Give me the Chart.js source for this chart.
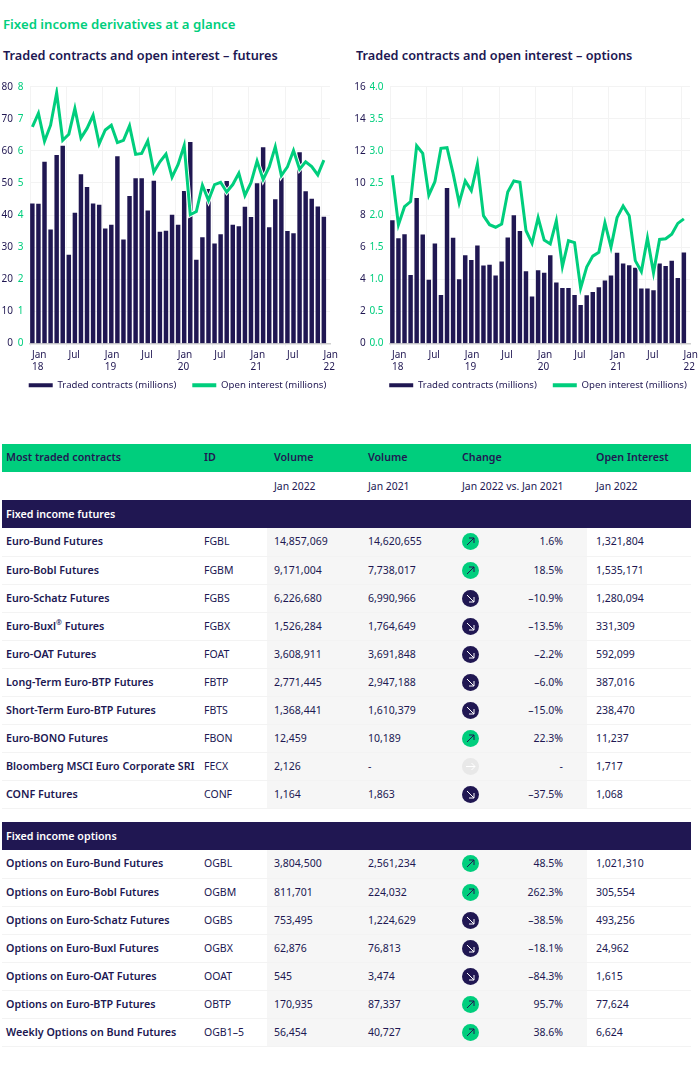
<!DOCTYPE html>
<html>
<head>
<meta charset="utf-8">
<title>Fixed income derivatives at a glance</title>
<script src="https://cdn.jsdelivr.net/npm/chart.js@4"></script>
<style>
html, body { margin: 0; padding: 0; background: #fff; }
body { width: 700px; height: 1067px; position: relative; overflow: hidden; font-family: "Noto Sans", sans-serif; color: #201752; }
.head { position: absolute; white-space: nowrap; font-weight: 600; }
#mainTitle { left: 3px; top: 16px; font-size: 13.2px; line-height: 16px; color: #00ce7d; }
#title1 { left: 3px; top: 47px; font-size: 12.7px; line-height: 16px; }
#title2 { left: 356px; top: 47px; font-size: 12.7px; line-height: 16px; }
canvas { position: absolute; }
#chart1 { left: 0; top: 70px; }
#chart2 { left: 352px; top: 70px; }
table { position: absolute; left: 2px; top: 444px; border-collapse: collapse; table-layout: fixed; width: 689px; font-size: 10.5px; }
td { height: 28px; padding: 0 0 1px 0; white-space: nowrap; box-sizing: border-box; border-bottom: 1px solid #f3f3f3; }
td.n { padding-left: 4px; font-weight: 600; font-size: 10.7px; }
td.i { padding-left: 4px; }
td.v { padding-left: 7px; background: #f6f6f6; }
td.c { padding-left: 7px; padding-right: 24px; background: #f6f6f6; position: relative; text-align: right; }
td.c svg { position: absolute; left: 7px; top: 5px; }
td.o { padding-left: 9px; }
sup { font-size: 7px; line-height: 0; }
tr.top td { background: #00ce7d; font-weight: 600; font-size: 10.7px; border: 0; padding-bottom: 2px; }
tr.sub td { background: #fff; border: 0; font-weight: 400; font-size: 10.4px; }
tr.band td { background: #201752; color: #fff; font-weight: 600; border: 0; }
tr.gap td { height: 14px; background: #fff; border: 0; }
</style>
</head>
<body>
<div class="head" id="mainTitle">Fixed income derivatives at a glance</div>
<div class="head" id="title1">Traded contracts and open interest – futures</div>
<div class="head" id="title2">Traded contracts and open interest – options</div>
<canvas id="chart1" width="355" height="330"></canvas>
<canvas id="chart2" width="372" height="330"></canvas>
<table id="tbl">
<colgroup><col style="width:198px"><col style="width:67px"><col style="width:94px"><col style="width:94px"><col style="width:132px"><col style="width:104px"></colgroup>
<tbody id="tbody"></tbody>
</table>

<script>
var months = [
	'Jan 18','Feb 18','Mar 18','Apr 18','May 18','Jun 18','Jul 18','Aug 18','Sep 18','Oct 18','Nov 18','Dec 18',
	'Jan 19','Feb 19','Mar 19','Apr 19','May 19','Jun 19','Jul 19','Aug 19','Sep 19','Oct 19','Nov 19','Dec 19',
	'Jan 20','Feb 20','Mar 20','Apr 20','May 20','Jun 20','Jul 20','Aug 20','Sep 20','Oct 20','Nov 20','Dec 20',
	'Jan 21','Feb 21','Mar 21','Apr 21','May 21','Jun 21','Jul 21','Aug 21','Sep 21','Oct 21','Nov 21','Dec 21',
	'Jan 22'];
var xTickLabels = [['Jan','18'],'Jul',['Jan','19'],'Jul',['Jan','20'],'Jul',['Jan','21'],'Jul',['Jan','22']];

var futuresTraded = [43.5,43.4,56.5,35.4,58.6,61.5,27.5,40.6,52.6,48.6,43.5,43.1,
	35.7,36.9,58.2,32.3,45.8,51.4,51.4,41.3,50.6,34.7,35,40,
	36.9,47.4,62.7,26,33,48,31,33.9,50.5,36.9,36.4,42.5,
	39.3,49.8,61,36.1,44.8,51.6,34.9,34.2,59.5,47.3,45,42.6,39.4];
var futuresOpen = [6.75,7.17,6.3,6.8,7.81,6.33,6.52,7.32,6.4,6.7,7.11,6.22,
	6.65,6.8,6.26,6.33,6.78,5.89,5.92,6.31,5.34,5.66,5.9,5.18,
	5.58,6.17,4.01,4.11,4.93,4.46,4.95,5.02,4.72,4.95,5.3,4.61,
	5.01,5.68,5.11,5.5,6.13,5.23,5.5,6.01,5.43,5.66,5.51,5.25,5.71];
var optionsTraded = [7.65,6.54,6.79,4.25,9.04,6.77,3.94,6.21,3,9.67,6.56,3.98,
	5.48,5.17,6.08,4.83,4.88,4.21,5.08,6.58,7.96,6.98,4.48,2.9,
	4.54,4.38,5.48,3.77,3.44,3.44,3,2.38,2.98,3.19,3.48,3.9,
	4.21,5.63,4.96,4.85,4.69,3.4,3.4,3.29,4.96,4.81,5.13,4.06,5.65];
var optionsOpen = [2.62,1.85,2.13,2.21,3.08,2.96,2.31,2.52,3.04,3.05,2.65,2.19,
	2.53,2.38,2.79,1.99,1.85,1.81,1.86,2.36,2.53,2.51,1.76,1.56,
	1.96,1.61,1.55,1.91,1.2,1.6,1.57,0.86,1.19,1.36,1.42,1.88,
	1.5,1.96,2.14,1.99,1.29,1.12,1.64,1.1,1.62,1.63,1.7,1.87,1.94];

var headerCols = ['Most traded contracts','ID','Volume','Volume','Change','Open Interest'];
var subCols = ['','','Jan 2022','Jan 2021','Jan 2022 vs. Jan 2021','Jan 2022'];
var futuresRows = [
	['Euro-Bund Futures','FGBL','14,857,069','14,620,655','1.6%','1,321,804'],
	['Euro-Bobl Futures','FGBM','9,171,004','7,738,017','18.5%','1,535,171'],
	['Euro-Schatz Futures','FGBS','6,226,680','6,990,966','–10.9%','1,280,094'],
	['Euro-Buxl<sup>®</sup> Futures','FGBX','1,526,284','1,764,649','–13.5%','331,309'],
	['Euro-OAT Futures','FOAT','3,608,911','3,691,848','–2.2%','592,099'],
	['Long-Term Euro-BTP Futures','FBTP','2,771,445','2,947,188','–6.0%','387,016'],
	['Short-Term Euro-BTP Futures','FBTS','1,368,441','1,610,379','–15.0%','238,470'],
	['Euro-BONO Futures','FBON','12,459','10,189','22.3%','11,237'],
	['Bloomberg MSCI Euro Corporate SRI','FECX','2,126','-','-','1,717'],
	['CONF Futures','CONF','1,164','1,863','–37.5%','1,068']
];
var optionsRows = [
	['Options on Euro-Bund Futures','OGBL','3,804,500','2,561,234','48.5%','1,021,310'],
	['Options on Euro-Bobl Futures','OGBM','811,701','224,032','262.3%','305,554'],
	['Options on Euro-Schatz Futures','OGBS','753,495','1,224,629','–38.5%','493,256'],
	['Options on Euro-Buxl Futures','OGBX','62,876','76,813','–18.1%','24,962'],
	['Options on Euro-OAT Futures','OOAT','545','3,474','–84.3%','1,615'],
	['Options on Euro-BTP Futures','OBTP','170,935','87,337','95.7%','77,624'],
	['Weekly Options on Bund Futures','OGB1–5','56,454','40,727','38.6%','6,624']
];

var navy = '#201752';
var green = '#00ce7d';
var gridColor = '#f3f3f3';
var barShift = 0.39;

function toPoints(values){
	return values.map(function(v, i){
		return {x: i + barShift, y: v};
	});
}

function drawChart(id, traded, open, leftMax, leftStep, rightMax, rightStep, rightDigits, yWidth, y1Width, rightPad){
	new Chart(document.getElementById(id), {
		data: {
			labels: months,
			datasets: [
				{type: 'line', label: 'Open interest (millions)', data: toPoints(open), yAxisID: 'y1',
					borderColor: green, backgroundColor: green, borderWidth: 3, pointRadius: 0, tension: 0, order: 0},
				// white outline round the green line
				{type: 'line', label: 'casing', data: toPoints(open), yAxisID: 'y1',
					borderColor: '#fff', borderWidth: 4.8, pointRadius: 0, tension: 0, order: 1},
				{type: 'bar', label: 'Traded contracts (millions)', data: toPoints(traded), yAxisID: 'y',
					backgroundColor: navy, barThickness: 3.8, order: 2}
			]
		},
		plugins: [{
			id: 'placeBoxes',
			afterLayout: function(chart){
				// legend sits centred on the whole canvas, year labels hang over the legend box
				chart.legend.left += rightPad / 2;
				chart.legend.right += rightPad / 2;
				chart.scales.x.bottom = chart.height;
			}
		}],
		options: {
			responsive: false,
			animation: false,
			layout: {padding: {left: 0, top: 16.7, right: rightPad, bottom: 0}},
			plugins: {
				tooltip: {enabled: false},
				legend: {
					position: 'bottom',
					reverse: true,
					labels: {
						color: navy,
						font: {family: '"Noto Sans"', size: 9.6},
						boxWidth: 24,
						boxHeight: 4,
						padding: 16,
						filter: function(item){ return item.text !== 'casing'; },
						generateLabels: function(chart){
							return Chart.defaults.plugins.legend.labels.generateLabels(chart).map(function(item){
								item.lineWidth = 0;
								return item;
							});
						}
					}
				}
			},
			scales: {
				x: {
					type: 'linear',
					offset: false,
					min: 0,
					max: 49.4,
					afterFit: function(scale){ scale.height = 21; },
					grid: {color: gridColor, tickLength: 3, offset: false},
					border: {color: '#cfcfcf', width: 1.5},
					ticks: {
						stepSize: 6,
						includeBounds: false,
						autoSkip: false,
						maxRotation: 0,
						align: 'start',
						labelOffset: 2,
						padding: 2,
						color: navy,
						font: {family: '"Noto Sans"', size: 10, lineHeight: 1.27},
						callback: function(value){ return xTickLabels[value / 6]; }
					}
				},
				y: {
					position: 'left',
					weight: 1,
					min: 0,
					max: leftMax,
					afterFit: function(scale){ scale.width = yWidth; },
					grid: {color: gridColor, drawTicks: false},
					border: {display: false},
					ticks: {stepSize: leftStep, padding: 4, color: navy, font: {family: '"Noto Sans"', size: 10}}
				},
				y1: {
					position: 'left',
					weight: 0,
					min: 0,
					max: rightMax,
					afterFit: function(scale){ scale.width = y1Width; },
					grid: {display: false, drawTicks: false},
					border: {display: false},
					ticks: {
						stepSize: rightStep,
						padding: 6.5,
						color: green,
						font: {family: '"Noto Sans"', size: 10},
						callback: function(value){ return value.toFixed(rightDigits); }
					}
				}
			}
		}
	});
}

function arrowIcon(change){
	// up arrow green, down arrow navy, grey when there is no change figure
	var up = '<circle cx="8.5" cy="8.5" r="8.5" fill="' + green + '"/><path d="M5 12 L12 5 M7 5 H12 V10" stroke="' + navy + '" fill="none" stroke-width="1"/>';
	var down = '<circle cx="8.5" cy="8.5" r="8.5" fill="' + navy + '"/><path d="M5 5 L12 12 M7 12 H12 V7" stroke="#fff" fill="none" stroke-width="1"/>';
	var none = '<circle cx="8.5" cy="8.5" r="8.5" fill="#e8e8e8"/><path d="M4 8.5 H13 M9.5 5 L13 8.5 L9.5 12" stroke="#fff" fill="none" stroke-width="1"/>';
	var body = change === '-' ? none : (change.charAt(0) === '–' ? down : up);
	return '<svg width="17" height="17" viewBox="0 0 17 17">' + body + '</svg>';
}

function addRow(cls, cells){
	var html = '<tr class="' + cls + '">';
	var kinds = ['n','i','v','v','c','o'];
	cells.forEach(function(c, i){
		html += '<td class="' + kinds[i] + '">' + c + '</td>';
	});
	document.getElementById('tbody').insertAdjacentHTML('beforeend', html + '</tr>');
}

function addBand(text){
	document.getElementById('tbody').insertAdjacentHTML('beforeend', '<tr class="band"><td class="n" colspan="6">' + text + '</td></tr>');
}

function addData(rows){
	rows.forEach(function(r){
		addRow('', [r[0], r[1], r[2], r[3], arrowIcon(r[4]) + r[4], r[5]]);
	});
}

document.getElementById('tbody').insertAdjacentHTML('beforeend',
	'<tr class="top">' + headerCols.map(function(c, i){
		return '<td class="' + ['n','i','v','v','v','o'][i] + '">' + c + '</td>';
	}).join('') + '</tr>');
document.getElementById('tbody').insertAdjacentHTML('beforeend',
	'<tr class="sub">' + subCols.map(function(c, i){
		return '<td class="' + ['n','i','v','v','v','o'][i] + '">' + c + '</td>';
	}).join('') + '</tr>');
addBand('Fixed income futures');
addData(futuresRows);
document.getElementById('tbody').insertAdjacentHTML('beforeend', '<tr class="gap"><td colspan="6"></td></tr>');
addBand('Fixed income options');
addData(optionsRows);

drawChart('chart1', futuresTraded, futuresOpen, 80, 10, 8, 1, 0, 17, 13, 25);
drawChart('chart2', optionsTraded, optionsOpen, 16, 2, 4, 0.5, 1, 17.7, 20.3, 34);
</script>
</body>
</html>
